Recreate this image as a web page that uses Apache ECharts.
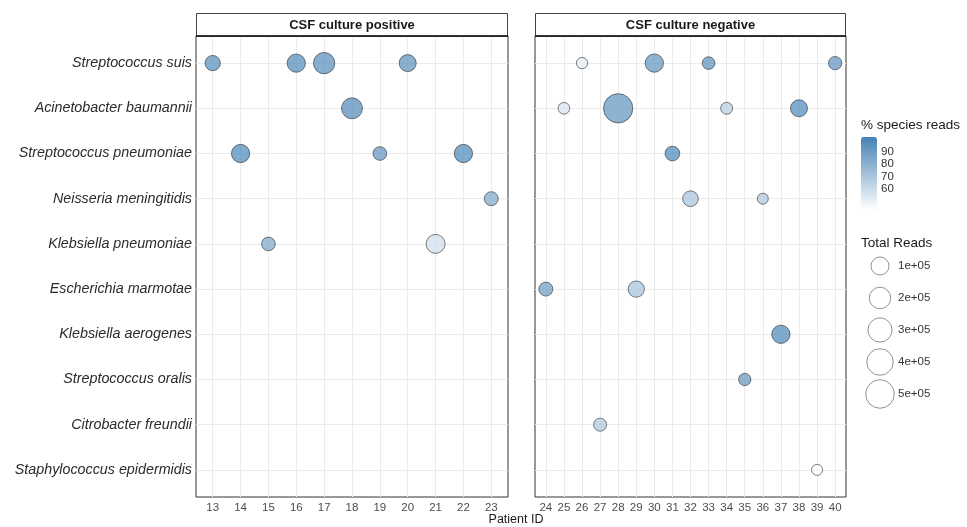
<!DOCTYPE html>
<html><head><meta charset="utf-8">
<script src="https://cdn.jsdelivr.net/npm/echarts@6/dist/echarts.min.js"></script>
<style>html,body{margin:0;padding:0;background:#fff}#c{width:967px;height:527px}</style>
</head><body><div id="c"></div>
<script>
const species = ['Streptococcus suis','Acinetobacter baumannii','Streptococcus pneumoniae','Neisseria meningitidis','Klebsiella pneumoniae','Escherichia marmotae','Klebsiella aerogenes','Streptococcus oralis','Citrobacter freundii','Staphylococcus epidermidis'];
const posTicks = [13,14,15,16,17,18,19,20,21,22,23];
const negTicks = [24,25,26,27,28,29,30,31,32,33,34,35,36,37,38,39,40];

// CSF culture positive
const posPatient = [13,16,17,20,18,14,19,22,23,15,21];
const posSpecies = ['Streptococcus suis','Streptococcus suis','Streptococcus suis','Streptococcus suis','Acinetobacter baumannii','Streptococcus pneumoniae','Streptococcus pneumoniae','Streptococcus pneumoniae','Neisseria meningitidis','Klebsiella pneumoniae','Klebsiella pneumoniae'];
const posPct = [95,96,94,93,96,97,92,97,82,83,58];
const posReads = [47000,107000,193000,78000,183000,107000,24500,107000,28000,24500,125000];

// CSF culture negative
const negPatient = [26,30,33,40,25,28,34,38,31,32,36,24,29,37,35,27,39];
const negSpecies = ['Streptococcus suis','Streptococcus suis','Streptococcus suis','Streptococcus suis','Acinetobacter baumannii','Acinetobacter baumannii','Acinetobacter baumannii','Acinetobacter baumannii','Streptococcus pneumoniae','Neisseria meningitidis','Neisseria meningitidis','Escherichia marmotae','Escherichia marmotae','Klebsiella aerogenes','Streptococcus oralis','Citrobacter freundii','Staphylococcus epidermidis'];
const negPct = [52,91,93,92,55,91,65,96,97,70,69,88,70,97,90,68,44];
const negReads = [4500,107000,14000,20000,6700,543000,8700,78000,37500,53000,3100,28000,64000,107000,11000,17000,3100];

const readsBreaks = [100000,200000,300000,400000,500000];
const readsLabels = ['1e+05','2e+05','3e+05','4e+05','5e+05'];
const pctTicks = [60,70,80,90];
const pctRange = [43,102];

const FONT = "'Liberation Sans', Arial, sans-serif";
const sizeFn = v => 9.5 + 0.02686 * Math.sqrt(v[3]);
const speciesIdx = species.map((s,i)=>i);
const toData = (pat, sp, pct, rd) => pat.map((p,i)=>[p, species.indexOf(sp[i]), pct[i], rd[i]]);

const gridLine = {show:true, lineStyle:{color:'#ebebeb', width:1}};
function xAx(gi, ticks){
  return {type:'value', gridIndex:gi, min:ticks[0]-0.6, max:ticks[ticks.length-1]+0.6,
    axisLine:{show:false}, axisTick:{show:false, customValues:ticks},
    axisLabel:{customValues:ticks, color:'#4d4d4d', fontSize:11.5, margin:5, fontFamily:FONT},
    splitLine:Object.assign({customValues:ticks}, gridLine)};
}
function yAx(gi, showLabel){
  return {type:'value', gridIndex:gi, inverse:true, min:-0.6, max:species.length-1+0.6,
    axisLine:{show:false}, axisTick:{show:false, customValues:speciesIdx},
    axisLabel:{show:showLabel, customValues:speciesIdx, formatter:v=>species[Math.round(v)],
      fontStyle:'italic', fontSize:14.3, color:'#2b2b2b', margin:4, fontFamily:FONT},
    splitLine:Object.assign({customValues:speciesIdx}, gridLine)};
}
const pointStyle = {opacity:0.75, borderColor:'#2a2a2a', borderWidth:0.8};

const chart = echarts.init(document.getElementById('c'), null, {renderer:'canvas'});
chart.setOption({
  animation:false,
  textStyle:{fontFamily:FONT},
  grid:[
    {left:196, top:36, width:312, height:461, show:true, borderColor:'#333', borderWidth:1, backgroundColor:'transparent'},
    {left:535, top:36, width:311, height:461, show:true, borderColor:'#333', borderWidth:1, backgroundColor:'transparent'},
    {left:866, top:250, width:28, height:160},
    {left:861, top:137, width:16, height:73}
  ],
  xAxis:[xAx(0,posTicks), xAx(1,negTicks),
    {type:'value', gridIndex:2, min:-1, max:1, show:false},
    {type:'value', gridIndex:3, min:0, max:1, show:false}],
  yAxis:[yAx(0,true), yAx(1,false),
    {type:'category', gridIndex:2, data:readsLabels, inverse:true, position:'right',
      axisLine:{show:false}, axisTick:{show:false}, splitLine:{show:false},
      axisLabel:{fontSize:11.5, color:'#333', margin:4, fontFamily:FONT}},
    {type:'value', gridIndex:3, min:pctRange[0], max:pctRange[1], position:'right',
      axisLine:{show:false}, splitLine:{show:false},
      axisTick:{show:true, inside:true, length:3, lineStyle:{color:'#fff', width:1}, customValues:pctTicks},
      axisLabel:{customValues:pctTicks, fontSize:11.5, color:'#333', margin:4, fontFamily:FONT}}],
  visualMap:{type:'continuous', min:pctRange[0], max:pctRange[1], dimension:2, seriesIndex:[0,1],
    inRange:{color:['#ffffff','#4682b4']}, calculable:false, showLabel:false, text:null,
    left:861, top:137, itemWidth:16, itemHeight:73, padding:0, orient:'vertical', hoverLink:false},
  series:[
    {type:'scatter', xAxisIndex:0, yAxisIndex:0, clip:false, data:toData(posPatient,posSpecies,posPct,posReads),
      symbolSize:sizeFn, itemStyle:pointStyle, emphasis:{disabled:true}},
    {type:'scatter', xAxisIndex:1, yAxisIndex:1, clip:false, data:toData(negPatient,negSpecies,negPct,negReads),
      symbolSize:sizeFn, itemStyle:pointStyle, emphasis:{disabled:true}},
    {type:'scatter', xAxisIndex:2, yAxisIndex:2, clip:false, data:readsBreaks.map((r,i)=>[0,i,null,r]),
      symbolSize:sizeFn, itemStyle:{color:'#fff', borderColor:'#555', borderWidth:0.8}, emphasis:{disabled:true}}
  ],
  graphic:[
    {type:'rect', shape:{x:196.5, y:13.5, width:311, height:22.5}, style:{fill:'#fff', stroke:'#444', lineWidth:1}, z:10},
    {type:'rect', shape:{x:535.5, y:13.5, width:310, height:22.5}, style:{fill:'#fff', stroke:'#444', lineWidth:1}, z:10},
    {type:'line', shape:{x1:196, y1:36, x2:508, y2:36}, style:{stroke:'#111', lineWidth:1.5}, z:11},
    {type:'line', shape:{x1:535, y1:36, x2:846, y2:36}, style:{stroke:'#111', lineWidth:1.5}, z:11},
    {type:'text', x:352, y:25, style:{text:'CSF culture positive', font:"bold 13px "+FONT, fill:'#1a1a1a', align:'center', verticalAlign:'middle'}, z:12},
    {type:'text', x:690.5, y:25, style:{text:'CSF culture negative', font:"bold 13px "+FONT, fill:'#1a1a1a', align:'center', verticalAlign:'middle'}, z:12},
    {type:'text', x:516, y:520, style:{text:'Patient ID', font:"12.5px "+FONT, fill:'#1a1a1a', align:'center', verticalAlign:'middle'}},
    {type:'text', x:861, y:125, style:{text:'% species reads', font:"13.5px "+FONT, fill:'#1a1a1a', align:'left', verticalAlign:'middle'}},
    {type:'text', x:861, y:243, style:{text:'Total Reads', font:"13.5px "+FONT, fill:'#1a1a1a', align:'left', verticalAlign:'middle'}}
  ]
});
</script></body></html>
